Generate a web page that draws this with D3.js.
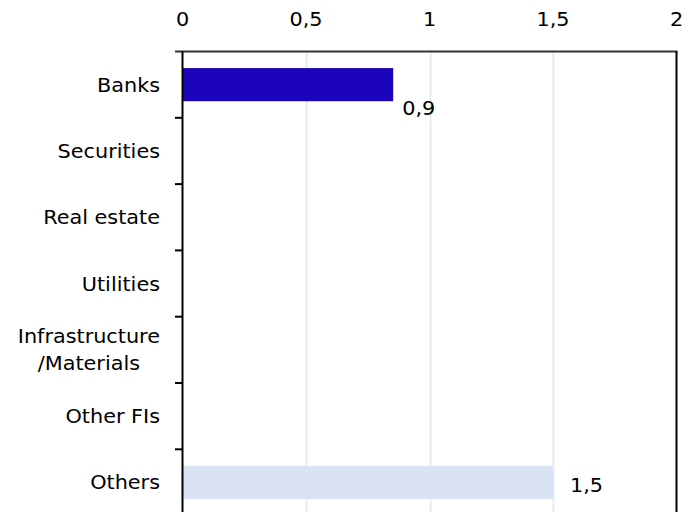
<!DOCTYPE html>
<html>
<head>
<meta charset="utf-8">
<script src="https://cdn.jsdelivr.net/npm/d3@7"></script>
<style>
  html, body { margin: 0; padding: 0; background: #ffffff; }
  svg { display: block; }
  text { font-family: "DejaVu Sans", sans-serif; fill: #000; }
</style>
</head>
<body>
<svg id="chart" width="700" height="512"></svg>
<script>
// Sector breakdown (values in the chart's units)
const categories = ["Banks", "Securities", "Real estate", "Utilities", "Infrastructure\n/Materials", "Other FIs", "Others"];
const values = [0.853, null, null, null, null, null, 1.5];
const barColors = ["#1b04b9", null, null, null, null, null, "#dae3f3"];
const xTicks = [0, 0.5, 1, 1.5, 2];

const W = 700, H = 512;
const margin = { top: 51.5, left: 182.5, right: 23.5 };
const bandH = 66.3;
const plotBottom = margin.top + bandH * categories.length;
const FS = 20;      // font size
const SX = 1.04;    // horizontal text stretch

const svg = d3.select("#chart");
const fmt = v => d3.format(".1f")(v).replace(".", ",");
const tickFmt = v => String(v).replace(".", ",");

const x = d3.scaleLinear().domain([0, 2]).range([margin.left, W - margin.right]);
const y = d3.scaleBand().domain(categories).range([margin.top, plotBottom]).paddingInner(0.5).paddingOuter(0.25);

// text placed at (tx, ty) and stretched horizontally around its anchor
function label(sel, tx, ty, str, anchor) {
  return sel.append("text")
    .attr("transform", `translate(${tx},${ty}) scale(${SX},1)`)
    .attr("text-anchor", anchor || "start")
    .attr("font-size", FS)
    .text(str);
}

// vertical gridlines
svg.append("g").selectAll("line")
  .data(xTicks.filter(t => t > 0 && t < 2))
  .join("line")
  .attr("x1", d => Math.round(x(d)) + 0.5).attr("x2", d => Math.round(x(d)) + 0.5)
  .attr("y1", margin.top).attr("y2", plotBottom)
  .attr("stroke", "#e6ebf3").attr("stroke-width", 2);

// bars
const rows = categories.map((c, i) => ({ c, v: values[i], color: barColors[i] })).filter(d => d.v != null);
svg.append("g").selectAll("rect")
  .data(rows)
  .join("rect")
  .attr("x", x(0))
  .attr("y", d => y(d.c))
  .attr("width", d => x(d.v) - x(0))
  .attr("height", y.bandwidth())
  .attr("fill", d => d.color);

// value labels (the first label sits lower, below its bar)
const labelDy = { "Banks": 30, "Others": 10 };
const labelDx = { "Banks": 9, "Others": 17 };
const vl = svg.append("g");
rows.forEach(d => label(vl, x(d.v) + labelDx[d.c], y(d.c) + y.bandwidth() / 2 + labelDy[d.c], fmt(d.v)));

// top axis labels
const al = svg.append("g");
xTicks.forEach(t => label(al, x(t), 26, tickFmt(t), "middle"));

// frame: top, left, right
const frame = svg.append("g").attr("stroke", "#000").attr("stroke-width", 2).attr("fill", "none");
frame.append("line").attr("x1", 175).attr("x2", x(2) + 1).attr("y1", margin.top).attr("y2", margin.top).attr("stroke", "#333");
frame.append("line").attr("x1", x(0)).attr("x2", x(0)).attr("y1", margin.top).attr("y2", plotBottom);
frame.append("line").attr("x1", x(2)).attr("x2", x(2)).attr("y1", margin.top).attr("y2", plotBottom);

// category boundary ticks on the left axis
const bounds = d3.range(1, categories.length).map(i => margin.top + i * bandH);
frame.selectAll("line.tick")
  .data(bounds)
  .join("line").attr("class", "tick")
  .attr("x1", 175).attr("x2", x(0))
  .attr("y1", d => d).attr("y2", d => d);

// category labels: right edge at 160; wrapped lines centred on each other
const cl = svg.append("g");
const lh = 27;
categories.forEach(c => {
  const lines = c.split("\n");
  const cy = y(c) + y.bandwidth() / 2 + 7;
  if (lines.length === 1) {
    label(cl, 160, cy, c, "end");
  } else {
    const texts = lines.map((ln, i) => label(cl, 0, 0, ln, "middle"));
    const maxW = d3.max(texts, t => t.node().getComputedTextLength()) * SX;
    const cx = 160 - maxW / 2;
    texts.forEach((t, i) => t.attr("transform",
      `translate(${cx},${cy - (lines.length - 1) * lh / 2 + i * lh}) scale(${SX},1)`));
  }
});
</script>
</body>
</html>
